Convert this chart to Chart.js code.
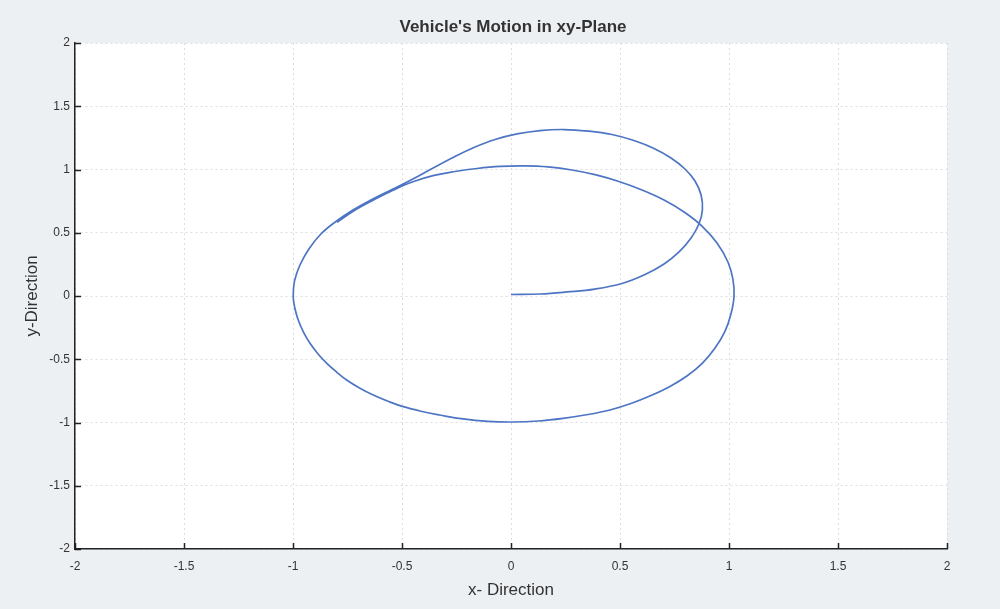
<!DOCTYPE html>
<html>
<head>
<meta charset="utf-8">
<script src="https://cdn.jsdelivr.net/npm/chart.js@4"></script>
<style>
  html, body { margin: 0; padding: 0; background: #edf0f3; }
  #wrap { width: 1000px; height: 609px; }
</style>
</head>
<body>
<div id="wrap"><canvas id="c" width="1000" height="609"></canvas></div>
<script>
const chartTitle = "Vehicle's Motion in xy-Plane";
const xAxisTitle = "x- Direction";
const yAxisTitle = "y-Direction";
const xTicks = [-2, -1.5, -1, -0.5, 0, 0.5, 1, 1.5, 2];
const yTicks = [-2, -1.5, -1, -0.5, 0, 0.5, 1, 1.5, 2];

// path of the vehicle (in order of travel)
const xValues = [
  0.0, 0.133, 0.257, 0.385, 0.509, 0.615, 0.702, 0.771, 0.826, 0.862,
  0.878, 0.872, 0.844, 0.798, 0.734, 0.656, 0.564, 0.463, 0.353, 0.243,
  0.133, 0.028, -0.073, -0.170, -0.261, -0.353, -0.450, -0.546, -0.638, -0.725,
  -0.803, -0.872, -0.927, -0.968, -0.993, -0.999,
  -0.991, -0.976, -0.952, -0.922, -0.885, -0.845, -0.800, -0.754, -0.695, -0.632,
  -0.564, -0.494, -0.413, -0.326, -0.220, -0.106, 0.009, 0.124, 0.239, 0.353,
  0.454, 0.550, 0.642, 0.729, 0.807, 0.876, 0.936, 0.982, 1.009, 1.023,
  1.018, 0.995, 0.945, 0.876, 0.794, 0.702, 0.601, 0.495, 0.390, 0.280,
  0.170, 0.060, -0.050, -0.156, -0.257, -0.353, -0.450, -0.544, -0.635, -0.722,
  -0.798
];
const yValues = [
  0.012, 0.016, 0.032, 0.055, 0.099, 0.170, 0.253, 0.348, 0.458, 0.569,
  0.680, 0.798, 0.909, 1.004, 1.091, 1.166, 1.229, 1.277, 1.304, 1.316,
  1.308, 1.281, 1.237, 1.174, 1.099, 1.016, 0.925, 0.842, 0.763, 0.680,
  0.589, 0.490, 0.372, 0.245, 0.119, -0.006,
  -0.099, -0.190, -0.285, -0.374, -0.458, -0.532, -0.601, -0.664, -0.727, -0.783,
  -0.832, -0.875, -0.911, -0.941, -0.972, -0.991, -0.996, -0.988, -0.967, -0.937,
  -0.901, -0.850, -0.787, -0.715, -0.632, -0.534, -0.411, -0.277, -0.142, -0.004,
  0.134, 0.269, 0.419, 0.553, 0.664, 0.759, 0.838, 0.905, 0.957, 0.996,
  1.020, 1.028, 1.024, 1.008, 0.984, 0.953, 0.903, 0.834, 0.755, 0.672,
  0.583
];

const points = xValues.map((x, i) => ({ x: x, y: yValues[i] }));

const bgPlugin = {
  id: 'bg',
  beforeDraw(chart) {
    const ctx = chart.ctx, a = chart.chartArea;
    ctx.save();
    ctx.fillStyle = '#edf0f3';
    ctx.fillRect(0, 0, chart.width, chart.height);
    ctx.fillStyle = '#ffffff';
    ctx.fillRect(a.left, a.top, a.right - a.left, a.bottom - a.top);
    ctx.restore();
  }
};

const inwardTicks = {
  id: 'inwardTicks',
  afterDraw(chart) {
    const ctx = chart.ctx, a = chart.chartArea;
    const xs = chart.scales.x, ys = chart.scales.y;
    ctx.save();
    ctx.strokeStyle = '#222';
    ctx.lineWidth = 1.5;
    ctx.beginPath();
    xTicks.forEach(v => {
      const px = Math.round(xs.getPixelForValue(v)) + 0.5;
      ctx.moveTo(px, a.bottom);
      ctx.lineTo(px, a.bottom - 6);
    });
    yTicks.forEach(v => {
      const py = Math.round(ys.getPixelForValue(v)) + 0.5;
      ctx.moveTo(a.left, py);
      ctx.lineTo(a.left + 6, py);
    });
    ctx.stroke();
    ctx.restore();
  }
};

const fontFam = "'Liberation Sans', Arial, sans-serif";

new Chart(document.getElementById('c'), {
  type: 'scatter',
  data: {
    datasets: [{
      data: points,
      showLine: true,
      borderColor: '#4d75c4',
      borderWidth: 1.7,
      pointRadius: 0,
      tension: 0.4,
      fill: false,
      xAxisID: 'x',
      yAxisID: 'y'
    }]
  },
  options: {
    responsive: false,
    animation: false,
    layout: { padding: { left: 26, right: 0, top: 0, bottom: 0 } },
    plugins: {
      legend: { display: false },
      tooltip: { enabled: false },
      title: {
        display: true,
        text: chartTitle,
        color: '#333',
        font: { family: fontFam, size: 17, weight: 'bold' },
        padding: { top: 16.8, bottom: 5.8 }
      }
    },
    scales: {
      x: {
        type: 'linear',
        min: -2, max: 2,
        afterBuildTicks(s) { s.ticks = xTicks.map(v => ({ value: v })); },
        afterFit(s) { s.height = 60; },
        ticks: {
          color: '#333',
          font: { family: fontFam, size: 12 },
          padding: 10,
          maxRotation: 0,
          callback: v => String(v)
        },
        grid: { color: '#dcdde0', lineWidth: 1, drawTicks: false },
        border: { display: true, color: '#222', width: 1.5, dash: [2, 3] },
        title: {
          display: true,
          text: xAxisTitle,
          color: '#333',
          font: { family: fontFam, size: 17 },
          padding: { top: 0, bottom: 8.8 }
        }
      },
      y: {
        type: 'linear',
        min: -2, max: 2,
        afterBuildTicks(s) { s.ticks = yTicks.map(v => ({ value: v })); },
        afterFit(s) { s.width = 49; },
        ticks: {
          color: '#333',
          font: { family: fontFam, size: 12 },
          padding: 5,
          callback: v => String(v)
        },
        grid: { color: '#dcdde0', lineWidth: 1, drawTicks: false },
        border: { display: true, color: '#222', width: 1.5, dash: [2, 3] },
        title: {
          display: true,
          text: yAxisTitle,
          color: '#333',
          font: { family: fontFam, size: 17, lineHeight: 0.7 },
          padding: { top: 0, bottom: 0 }
        }
      },
      yRight: {
        type: 'linear',
        position: 'right',
        min: -2, max: 2,
        afterFit(s) { s.width = 53; },
        ticks: { display: false },
        grid: { display: false, drawOnChartArea: false },
        border: { display: false }
      }
    }
  },
  plugins: [bgPlugin, inwardTicks]
});
</script>
</body>
</html>
